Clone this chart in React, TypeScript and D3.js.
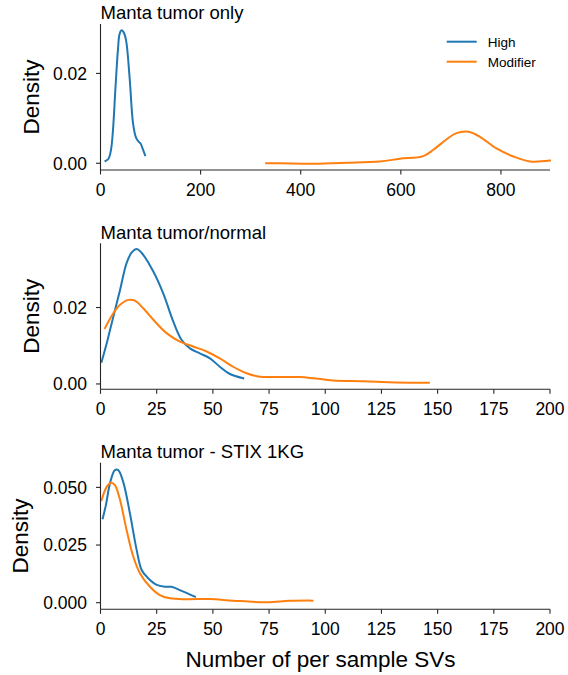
import React from "react";
import * as d3 from "d3";

// ---------- data ----------
const seriesNames = ["High", "Modifier"];
const seriesColors = ["#1f77b4", "#ff7f0e"];

const panelTitles = ["Manta tumor only", "Manta tumor/normal", "Manta tumor - STIX 1KG"];

// Panel 1: Manta tumor only
const p1HighX = [10, 16, 21, 25, 30, 35, 38, 42, 46, 51, 58, 65, 71, 76, 80, 84, 89];
const p1HighY = [0.0005, 0.001, 0.003, 0.0075, 0.017, 0.0255, 0.0287, 0.0296, 0.0292, 0.0274, 0.0193, 0.0089, 0.0057, 0.0048, 0.0044, 0.0033, 0.0018];
const p1ModX = [331, 358, 425, 491, 558, 598, 645, 665, 691, 711, 735, 758, 791, 825, 858, 898];
const p1ModY = [0.0, 0.0, -0.0001, 0.0001, 0.0004, 0.001, 0.0016, 0.003, 0.0053, 0.0067, 0.007, 0.0059, 0.0033, 0.0015, 0.0004, 0.0006];

// Panel 2: Manta tumor/normal
const p2HighX = [0.5, 2.8, 5.7, 8.7, 11.6, 13.9, 16.1, 19, 23.5, 27.9, 32.4, 36.1, 39.8, 44.2, 48.7, 53.1, 57.6, 63.5];
const p2HighY = [0.0058, 0.0107, 0.0176, 0.0246, 0.0316, 0.0344, 0.0353, 0.0338, 0.0294, 0.0237, 0.0163, 0.0115, 0.0093, 0.008, 0.0067, 0.0045, 0.0026, 0.0015];
const p2ModX = [2, 5.7, 8.7, 12.4, 15.3, 19, 23.5, 29.4, 35.3, 41.2, 47.2, 53.1, 59, 65, 70.9, 78.3, 88.7, 94.6, 103.5, 116.8, 131.6, 146.1];
const p2ModY = [0.0146, 0.0185, 0.0207, 0.022, 0.0218, 0.0198, 0.0168, 0.0133, 0.0111, 0.0098, 0.0085, 0.0067, 0.0045, 0.0028, 0.0019, 0.0018, 0.0018, 0.0015, 0.0009, 0.0007, 0.0004, 0.0003];

// Panel 3: Manta tumor - STIX 1KG
const p3HighX = [1, 2.4, 4.2, 6.4, 7.9, 10.1, 13.1, 16.1, 18.3, 21.2, 25, 28.7, 31.6, 36.1, 42];
const p3HighY = [0.0366, 0.0423, 0.0517, 0.0575, 0.0575, 0.0524, 0.0387, 0.0228, 0.0142, 0.0106, 0.0077, 0.0069, 0.0069, 0.0051, 0.0026];
const p3ModX = [0.5, 2.8, 4.7, 6.4, 8.7, 11.6, 14.6, 17.6, 22, 26.4, 30.9, 38.3, 48.7, 59, 73.9, 84.2, 94.3];
const p3ModY = [0.0445, 0.0503, 0.052, 0.051, 0.0445, 0.0315, 0.0199, 0.0127, 0.0069, 0.0033, 0.0019, 0.0015, 0.0016, 0.0009, 0.0002, 0.0008, 0.0009];

const p1XTicks = [0, 200, 400, 600, 800];
const p23XTicks = [0, 25, 50, 75, 100, 125, 150, 175, 200];
const p1YTicks = [0, 0.02];
const p2YTicks = [0, 0.02];
const p3YTicks = [0, 0.025, 0.05];
const p1YLabels = ["0.00", "0.02"];
const p2YLabels = ["0.00", "0.02"];
const p3YLabels = ["0.000", "0.025", "0.050"];

const xLabel = "Number of per sample SVs";
const yLabel = "Density";

// ---------- layout ----------
const FONT = "'Liberation Sans', Arial, Helvetica, sans-serif";
const LEFT = 100.5;
const RIGHT = 550;
const AX = "#262626";

type PanelDef = {
  title: string;
  top: number;
  bottom: number;
  xDomain: [number, number];
  yDomain: [number, number];
  xTicks: number[];
  yTicks: number[];
  yLabels: string[];
  series: { x: number[]; y: number[] }[];
  yLabelX: number;
  legend?: boolean;
};

const panels: PanelDef[] = [
  {
    title: panelTitles[0],
    top: 24,
    bottom: 170,
    xDomain: [0, 898],
    yDomain: [-0.0015, 0.031],
    xTicks: p1XTicks,
    yTicks: p1YTicks,
    yLabels: p1YLabels,
    series: [
      { x: p1HighX, y: p1HighY },
      { x: p1ModX, y: p1ModY },
    ],
    yLabelX: 38.5,
    legend: true,
  },
  {
    title: panelTitles[1],
    top: 243.3,
    bottom: 389.3,
    xDomain: [0, 200],
    yDomain: [-0.0014, 0.0368],
    xTicks: p23XTicks,
    yTicks: p2YTicks,
    yLabels: p2YLabels,
    series: [
      { x: p2HighX, y: p2HighY },
      { x: p2ModX, y: p2ModY },
    ],
    yLabelX: 38.5,
  },
  {
    title: panelTitles[2],
    top: 462.7,
    bottom: 609.3,
    xDomain: [0, 200],
    yDomain: [-0.00286, 0.0607],
    xTicks: p23XTicks,
    yTicks: p3YTicks,
    yLabels: p3YLabels,
    series: [
      { x: p3HighX, y: p3HighY },
      { x: p3ModX, y: p3ModY },
    ],
    yLabelX: 27.5,
  },
];

function Panel({ p }: { p: PanelDef }) {
  const x = d3.scaleLinear().domain(p.xDomain).range([LEFT, RIGHT]);
  const y = d3.scaleLinear().domain(p.yDomain).range([p.bottom, p.top]);
  const line = d3
    .line<[number, number]>()
    .x((d) => x(d[0]))
    .y((d) => y(d[1]))
    .curve(d3.curveCatmullRom.alpha(0.5));
  const midY = (p.top + p.bottom) / 2;
  return (
    <g>
      {p.series.map((s, i) => (
        <path
          key={i}
          d={line(s.x.map((v, j) => [v, s.y[j]] as [number, number])) || ""}
          fill="none"
          stroke={seriesColors[i]}
          strokeWidth={2}
          strokeLinecap="square"
        />
      ))}
      {/* spines */}
      <line x1={LEFT} x2={LEFT} y1={p.top} y2={p.bottom} stroke={AX} strokeWidth={1.1} />
      <line x1={LEFT} x2={RIGHT} y1={p.bottom} y2={p.bottom} stroke={AX} strokeWidth={1.1} />
      {p.xTicks.map((t) => (
        <g key={"x" + t}>
          <line x1={x(t)} x2={x(t)} y1={p.bottom} y2={p.bottom + 4.5} stroke={AX} strokeWidth={1.1} />
          <text x={x(t)} y={p.bottom + 26} textAnchor="middle" fontSize={17.5} fontFamily={FONT} fill="#000">
            {t}
          </text>
        </g>
      ))}
      {p.yTicks.map((t, i) => (
        <g key={"y" + t}>
          <line x1={LEFT - 4.5} x2={LEFT} y1={y(t)} y2={y(t)} stroke={AX} strokeWidth={1.1} />
          <text
            x={LEFT - 13.5}
            y={y(t)}
            dy="0.36em"
            textAnchor="end"
            fontSize={17.5}
            fontFamily={FONT}
            fill="#000"
          >
            {p.yLabels[i]}
          </text>
        </g>
      ))}
      <text
        transform={`translate(${p.yLabelX},${midY}) rotate(-90)`}
        textAnchor="middle"
        fontSize={22.5}
        fontFamily={FONT}
        fill="#000"
      >
        {yLabel}
      </text>
      <text x={LEFT} y={p.top - 4.7} fontSize={18.5} fontFamily={FONT} fill="#000">
        {p.title}
      </text>
      {p.legend &&
        seriesNames.map((n, i) => (
          <g key={n}>
            <line
              x1={446.7}
              x2={476.7}
              y1={41.7 + i * 20}
              y2={41.7 + i * 20}
              stroke={seriesColors[i]}
              strokeWidth={2}
            />
            <text x={487.7} y={41.7 + i * 20} dy="0.36em" fontSize={13.5} fontFamily={FONT} fill="#000">
              {n}
            </text>
          </g>
        ))}
    </g>
  );
}

export default function App() {
  return (
    <svg
      width={568}
      height={675}
      style={{ position: "absolute", left: 0, top: 0, background: "#fff" }}
    >
      <rect width={568} height={675} fill="#fff" />
      {panels.map((p, i) => (
        <Panel key={i} p={p} />
      ))}
      <text x={320.5} y={667} textAnchor="middle" fontSize={22.5} fontFamily={FONT} fill="#000">
        {xLabel}
      </text>
    </svg>
  );
}
